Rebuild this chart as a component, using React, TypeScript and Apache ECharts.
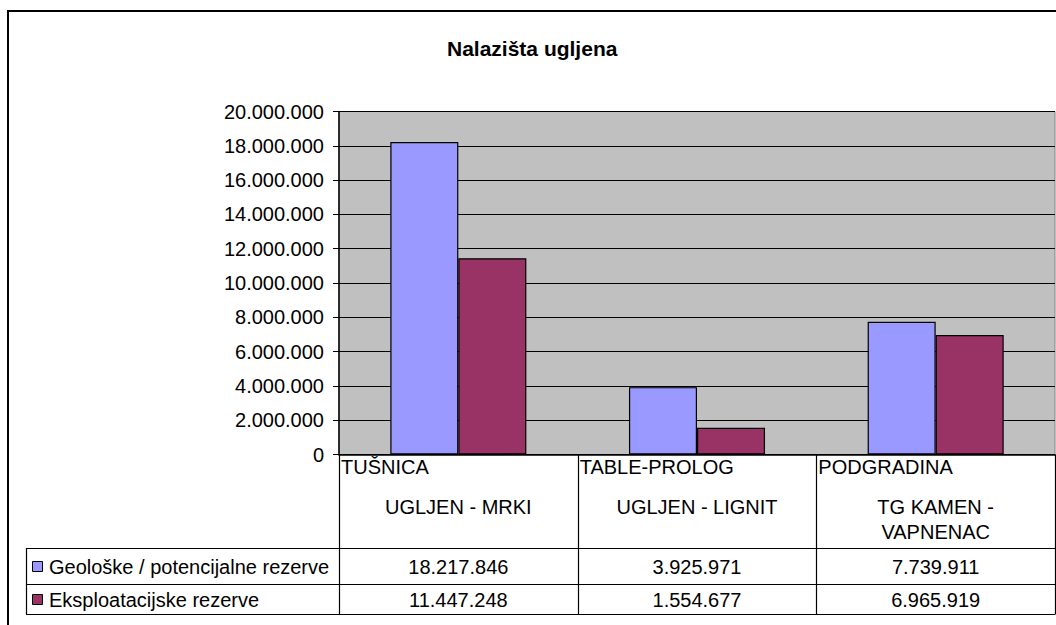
import React, { useEffect, useRef } from "react";
import * as echarts from "echarts";

const title = "Nalazišta ugljena";
const locations = ["TUŠNICA", "TABLE-PROLOG", "PODGRADINA"];
const materials = ["UGLJEN - MRKI", "UGLJEN - LIGNIT", "TG KAMEN -\nVAPNENAC"];
const seriesNames = ["Geološke / potencijalne rezerve", "Eksploatacijske rezerve"];
const geoloske = [18217846, 3925971, 7739911];
const eksploatacijske = [11447248, 1554677, 6965919];
const seriesValues = [geoloske, eksploatacijske];
const seriesColors = ["#9999FF", "#993366"];
const yMin = 0;
const yMax = 20000000;
const yInterval = 2000000;

const fmt = (n: number) => String(Math.round(n)).replace(/\B(?=(\d{3})+(?!\d))/g, ".");

const FONT = "'Liberation Sans', Arial, sans-serif";
const FS = 20;

export default function App() {
  const ref = useRef<HTMLDivElement>(null);
  useEffect(() => {
    document.body.style.margin = "0";
    const chart = echarts.init(ref.current!, null, { renderer: "svg" });

    const W = 1056;
    const H = 625;
    const gridLeft = 339;
    const gridRightX = 1055;
    const gridTop = 111.5;
    const gridBottomY = 454.5;
    const colW = (gridRightX - gridLeft) / locations.length;
    const headerBottom = 548;
    const row1Bottom = 584;
    const row2Bottom = 614;
    const legendLeft = 26;

    const g: any[] = [];
    g.push({
      type: "rect",
      shape: { x: 8, y: 11, width: 1200, height: 800 },
      style: { fill: "none", stroke: "#000", lineWidth: 2 },
      z: 100,
    });
    const line = (x1: number, y1: number, x2: number, y2: number) =>
      g.push({
        type: "line",
        shape: { x1, y1, x2, y2 },
        style: { stroke: "#000", lineWidth: 1.2 },
        z: 50,
      });
    for (let i = 0; i <= locations.length; i++) {
      const x = Math.round(gridLeft + i * colW) + 0.5;
      line(x, gridBottomY, x, row2Bottom);
    }
    line(legendLeft + 0.5, headerBottom, legendLeft + 0.5, row2Bottom);
    [headerBottom, row1Bottom, row2Bottom].forEach((y) =>
      line(legendLeft, y + 0.5, gridRightX + 0.5, y + 0.5)
    );
    locations.forEach((loc, i) => {
      const x0 = gridLeft + i * colW;
      g.push({
        type: "text",
        x: x0 + 2,
        y: 467,
        style: {
          text: loc,
          font: `${FS}px ${FONT}`,
          fill: "#000",
          textVerticalAlign: "middle",
          textAlign: "left",
        },
      });
      g.push({
        type: "text",
        x: x0 + colW / 2,
        y: 494,
        style: {
          text: materials[i],
          font: `${FS}px ${FONT}`,
          fill: "#000",
          textAlign: "center",
          textVerticalAlign: "top",
          lineHeight: 25,
        },
      });
    });
    const rowCenters = [(headerBottom + row1Bottom) / 2 + 1, (row1Bottom + row2Bottom) / 2 + 1];
    seriesNames.forEach((name, r) => {
      const cy = rowCenters[r];
      g.push({
        type: "rect",
        shape: { x: 32.5, y: cy - 5.5, width: 10, height: 10 },
        style: { fill: seriesColors[r], stroke: "#000", lineWidth: 1 },
      });
      g.push({
        type: "text",
        x: 49,
        y: cy,
        style: {
          text: name,
          font: `${FS}px ${FONT}`,
          fill: "#000",
          textVerticalAlign: "middle",
          textAlign: "left",
        },
      });
      seriesValues[r].forEach((v, i) => {
        g.push({
          type: "text",
          x: gridLeft + i * colW + colW / 2,
          y: cy,
          style: {
            text: fmt(v),
            font: `${FS}px ${FONT}`,
            fill: "#000",
            textVerticalAlign: "middle",
            textAlign: "center",
          },
        });
      });
    });

    chart.setOption({
      animation: false,
      backgroundColor: "#fff",
      title: {
        text: title,
        left: 447,
        top: 38,
        padding: 0,
        textStyle: { fontFamily: FONT, fontWeight: "bold", fontSize: 21, color: "#000" },
      },
      grid: {
        left: gridLeft,
        right: W - gridRightX,
        top: gridTop,
        bottom: H - gridBottomY,
        show: true,
        backgroundColor: "#C0C0C0",
        borderColor: "#808080",
        borderWidth: 1,
      },
      xAxis: {
        type: "category",
        data: locations,
        axisLabel: { show: false },
        axisTick: { show: false },
        axisLine: { lineStyle: { color: "#000", width: 1.5 } },
      },
      yAxis: {
        type: "value",
        min: yMin,
        max: yMax,
        interval: yInterval,
        axisLine: { show: true, lineStyle: { color: "#000", width: 1.5 } },
        axisTick: { show: true, length: 6, lineStyle: { color: "#000" } },
        axisLabel: {
          margin: 15,
          fontFamily: FONT,
          fontSize: FS,
          color: "#000",
          formatter: (v: number) => fmt(v),
        },
        splitLine: { lineStyle: { color: "#000", width: 1.2 } },
      },
      series: seriesNames.map((name, r) => ({
        type: "bar",
        name,
        data: seriesValues[r],
        barGap: "0%",
        barCategoryGap: "43%",
        itemStyle: { color: seriesColors[r], borderColor: "#000", borderWidth: 1.2 },
      })),
      graphic: g,
    });
    return () => chart.dispose();
  }, []);
  return <div ref={ref} style={{ width: 1056, height: 625 }} />;
}
